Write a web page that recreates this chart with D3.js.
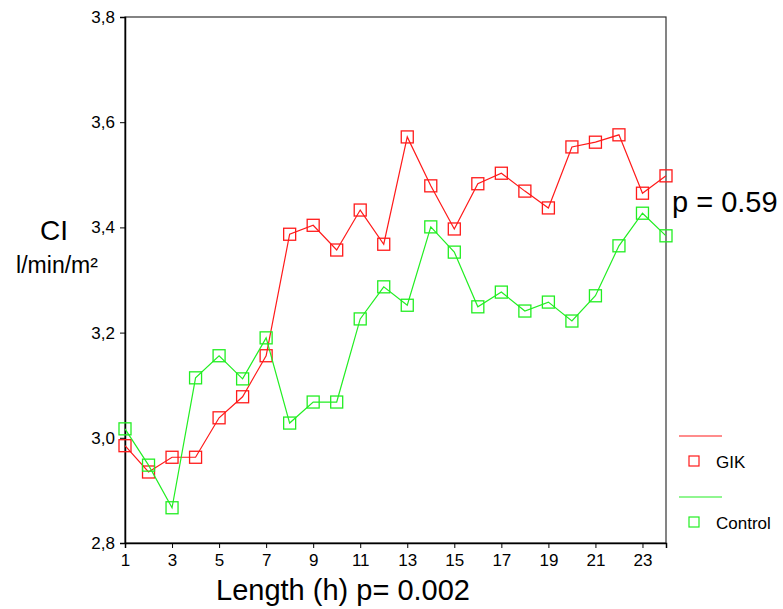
<!DOCTYPE html>
<html>
<head>
<meta charset="utf-8">
<script src="https://cdn.jsdelivr.net/npm/d3@7"></script>
<style>
  html, body { margin: 0; padding: 0; background: #fff; }
  svg { display: block; font-family: "Liberation Sans", Arial, sans-serif; }
</style>
</head>
<body>
<svg id="chart" width="783" height="609"></svg>
<script>
// Hours of measurement
const hours = d3.range(1, 25);
// Cardiac index (l/min/m²) per hour
const gikValues = [2.985, 2.935, 2.963, 2.963, 3.038, 3.078, 3.156, 3.387, 3.404, 3.357, 3.433, 3.368,
                   3.572, 3.479, 3.397, 3.483, 3.503, 3.469, 3.437, 3.553, 3.562, 3.576, 3.465, 3.498];
const controlValues = [3.017, 2.948, 2.867, 3.114, 3.156, 3.112, 3.190, 3.028, 3.068, 3.068, 3.226, 3.287,
                       3.252, 3.401, 3.353, 3.249, 3.277, 3.241, 3.258, 3.222, 3.270, 3.365, 3.427, 3.384];
const xTicks = [1, 3, 5, 7, 9, 11, 13, 15, 17, 19, 21, 23];
const yTicks = [2.8, 3.0, 3.2, 3.4, 3.6, 3.8];
const seriesNames = ["GIK", "Control"];
const seriesColors = ["#ff1a1a", "#22ee22"];

const svg = d3.select("#chart");
const plot = { left: 125, right: 666, top: 17, bottom: 543 };

const x = d3.scaleLinear().domain([1, 24]).range([plot.left, plot.right]);
const y = d3.scaleLinear().domain([2.8, 3.8]).range([plot.bottom, plot.top]);

// Frame
svg.append("rect")
  .attr("x", plot.left).attr("y", plot.top)
  .attr("width", plot.right - plot.left).attr("height", plot.bottom - plot.top)
  .attr("fill", "none").attr("stroke", "#333").attr("stroke-width", 1.2);

const fmt = d => d3.format(".1f")(d).replace(".", ",");

// Y axis
const yAxis = svg.append("g")
  .attr("transform", `translate(${plot.left},0)`)
  .call(d3.axisLeft(y).tickValues(yTicks).tickFormat(fmt).tickSize(5).tickPadding(5));
yAxis.select(".domain").attr("stroke", "#000").attr("stroke-width", 1.5);
yAxis.selectAll("text").style("font-size", "17px").attr("fill", "#000")
  .style("font-family", "Liberation Sans, Arial, sans-serif");

// X axis
const xAxis = svg.append("g")
  .attr("transform", `translate(0,${plot.bottom})`)
  .call(d3.axisBottom(x).tickValues(xTicks).tickFormat(d3.format("d")).tickSize(5).tickPadding(6));
xAxis.select(".domain").attr("stroke", "#000").attr("stroke-width", 1.5);
xAxis.selectAll("text").style("font-size", "17px").attr("fill", "#000")
  .style("font-family", "Liberation Sans, Arial, sans-serif");

// Series lines and square markers
const series = [gikValues, controlValues];
const line = d3.line().x((d, i) => x(hours[i])).y(d => y(d));
const mk = 12;

series.forEach((vals, s) => {
  svg.append("path")
    .datum(vals)
    .attr("d", line)
    .attr("fill", "none")
    .attr("stroke", seriesColors[s])
    .attr("stroke-width", 1.2);
  svg.append("g").selectAll("rect")
    .data(vals)
    .join("rect")
    .attr("x", (d, i) => x(hours[i]) - mk / 2)
    .attr("y", d => y(d) - mk / 2)
    .attr("width", mk).attr("height", mk)
    .attr("fill", "none")
    .attr("stroke", seriesColors[s])
    .attr("stroke-width", 1.3);
});

// Axis titles
svg.append("text").attr("x", 54).attr("y", 240).attr("text-anchor", "middle")
  .style("font-size", "28px").text("CI");
svg.append("text").attr("x", 57).attr("y", 273).attr("text-anchor", "middle")
  .style("font-size", "23px").text("l/min/m²");
svg.append("text").attr("x", 343).attr("y", 600).attr("text-anchor", "middle")
  .style("font-size", "29px").text("Length (h) p= 0.002");
svg.append("text").attr("x", 672).attr("y", 212)
  .style("font-size", "29px").text("p = 0.59");

// Legend
const legend = svg.append("g");
seriesNames.forEach((name, s) => {
  const ly = 436 + s * 61;
  legend.append("line")
    .attr("x1", 679).attr("x2", 722).attr("y1", ly).attr("y2", ly)
    .attr("stroke", seriesColors[s]).attr("stroke-width", 1.2);
  legend.append("rect")
    .attr("x", 689).attr("y", ly + 20).attr("width", 10).attr("height", 10)
    .attr("fill", "none").attr("stroke", seriesColors[s]).attr("stroke-width", 1.2);
  legend.append("text")
    .attr("x", 716).attr("y", ly + 32)
    .style("font-size", "17px").text(name);
});
</script>
</body>
</html>
